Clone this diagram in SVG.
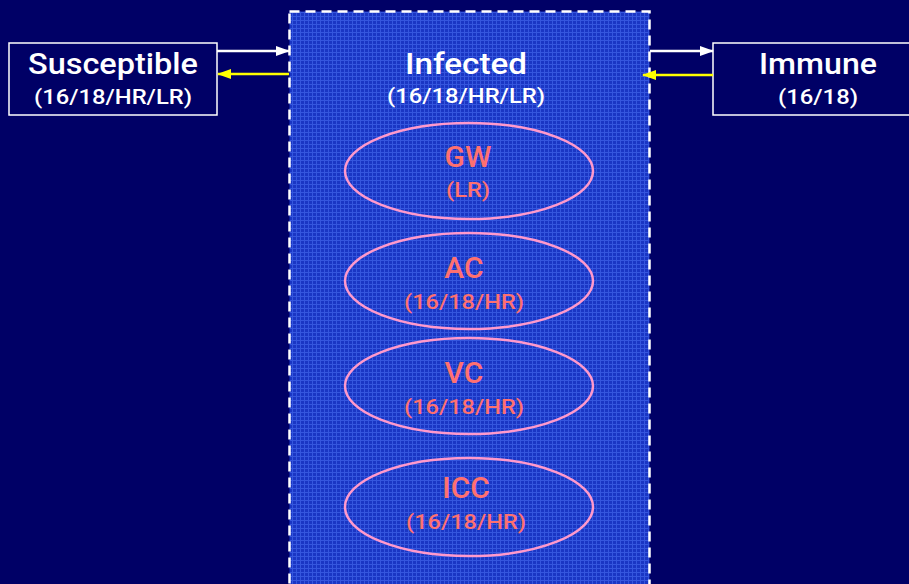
<svg xmlns="http://www.w3.org/2000/svg" width="909" height="584" viewBox="0 0 909 584">
<defs>
<pattern id="grid" width="4" height="4" patternUnits="userSpaceOnUse">
<rect width="4" height="4" fill="#1a36c4"/>
<path d="M0 0.5H4M0.5 0V4" stroke="#3556de" stroke-width="1"/>
</pattern>
<marker id="aw" markerWidth="14" markerHeight="10" refX="13" refY="5" orient="auto" markerUnits="userSpaceOnUse"><path d="M0 0L14 5L0 10Z" fill="#ffffff"/></marker>
<marker id="ay" markerWidth="14" markerHeight="10" refX="13" refY="5" orient="auto" markerUnits="userSpaceOnUse"><path d="M0 0L14 5L0 10Z" fill="#ffff00"/></marker>
</defs>
<style>
.box{fill:#000066;stroke:#ffffff;stroke-width:1.5}
.t1{font-family:Roboto,"Liberation Sans",sans-serif;font-weight:500;font-size:30px;fill:#ffffff;text-anchor:middle}
.t2{font-family:Roboto,"Liberation Sans",sans-serif;font-weight:500;font-size:21px;fill:#ffffff;text-anchor:middle}
.e{fill:none;stroke:#ff99cc;stroke-width:2.5}
.p1{font-family:Roboto,"Liberation Sans",sans-serif;font-weight:500;font-size:30px;fill:#ff7070;text-anchor:middle}
.p2{font-family:Roboto,"Liberation Sans",sans-serif;font-weight:500;font-size:21px;fill:#ff7070;text-anchor:middle}
.w{stroke:#ffffff;stroke-width:2.5;fill:none}
.y{stroke:#ffff00;stroke-width:2.5;fill:none}
</style>
<rect width="909" height="584" fill="#000066"/>
<g id="infected">
<rect x="289.5" y="11.5" width="360" height="590" fill="url(#grid)" stroke="#ffffff" stroke-width="2.5" stroke-dasharray="10,6"/>
<text class="t1" x="466" y="74" textLength="122" lengthAdjust="spacingAndGlyphs">Infected</text>
<text class="t2" x="466" y="103" textLength="158" lengthAdjust="spacingAndGlyphs">(16/18/HR/LR)</text>
</g>
<g id="susceptible">
<rect class="box" x="9" y="43" width="208" height="72"/>
<text class="t1" x="113" y="74" textLength="170" lengthAdjust="spacingAndGlyphs">Susceptible</text>
<text class="t2" x="113" y="104" textLength="158" lengthAdjust="spacingAndGlyphs">(16/18/HR/LR)</text>
</g>
<g id="immune">
<rect class="box" x="713" y="43" width="210" height="72"/>
<text class="t1" x="818" y="74" textLength="118" lengthAdjust="spacingAndGlyphs">Immune</text>
<text class="t2" x="818" y="104" textLength="80" lengthAdjust="spacingAndGlyphs">(16/18)</text>
</g>
<g id="gw">
<ellipse class="e" cx="469" cy="171" rx="124" ry="48"/>
<text class="p1" x="468" y="167">GW</text>
<text class="p2" x="468" y="197" textLength="44" lengthAdjust="spacingAndGlyphs">(LR)</text>
</g>
<g id="ac">
<ellipse class="e" cx="469" cy="281" rx="124" ry="48"/>
<text class="p1" x="464" y="278">AC</text>
<text class="p2" x="464" y="309" textLength="120" lengthAdjust="spacingAndGlyphs">(16/18/HR)</text>
</g>
<g id="vc">
<ellipse class="e" cx="469" cy="386" rx="124" ry="48"/>
<text class="p1" x="464" y="383">VC</text>
<text class="p2" x="464" y="414" textLength="120" lengthAdjust="spacingAndGlyphs">(16/18/HR)</text>
</g>
<g id="icc">
<ellipse class="e" cx="469" cy="507" rx="124" ry="49"/>
<text class="p1" x="466" y="498">ICC</text>
<text class="p2" x="466" y="529" textLength="120" lengthAdjust="spacingAndGlyphs">(16/18/HR)</text>
</g>
<g id="connectors">
<line class="w" x1="217" y1="51" x2="289" y2="51" marker-end="url(#aw)"/>
<line class="y" x1="289" y1="74" x2="218" y2="74" marker-end="url(#ay)"/>
<line class="w" x1="650" y1="51" x2="713" y2="51" marker-end="url(#aw)"/>
<line class="y" x1="713" y1="75" x2="643" y2="75" marker-end="url(#ay)"/>
</g>
</svg>
